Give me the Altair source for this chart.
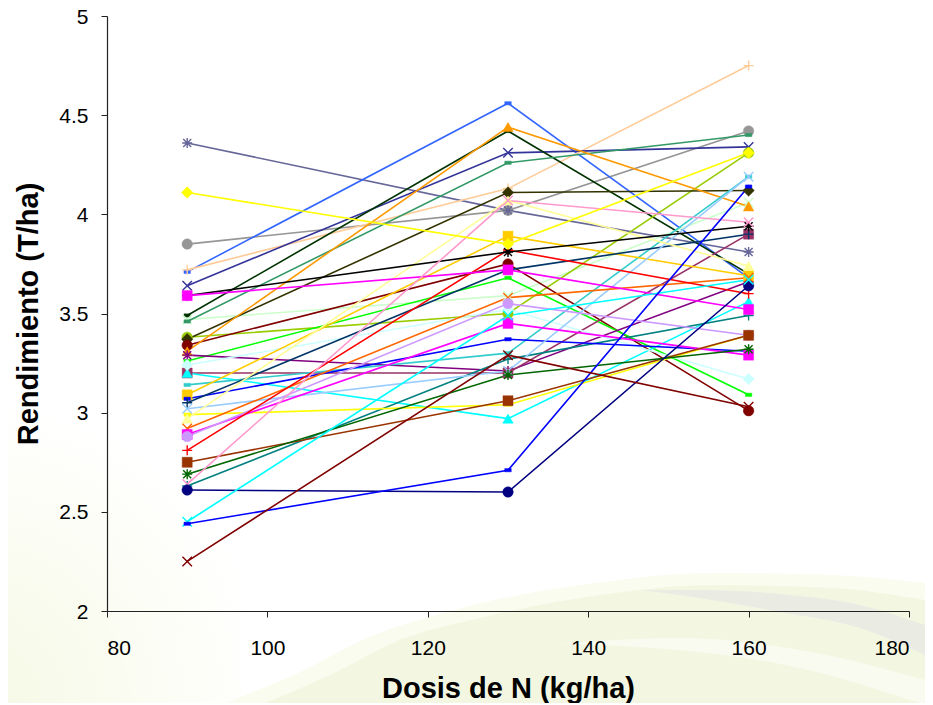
import altair as alt
import pandas as pd

DOSES = [90, 130, 160]
COLORS = ["#3366ff", "#666699", "#969696", "#ffcc99", "#333399", "#000000", "#ff00ff", "#003300", "#ccffcc", "#339966",
          "#333300", "#800000", "#ff9900", "#00ff00", "#800080", "#993366", "#00ffff", "#ccffff", "#33cccc", "#008080",
          "#ffcc00", "#0000ff", "#003366", "#99ccff", "#ffff00", "#ffff99", "#ff6600", "#cc99ff", "#ff00ff", "#ff0000",
          "#993300", "#006600", "#ff99cc", "#000080", "#00ffff", "#0000ff", "#800000", "#99cc00", "#ffff00"]
V90 = [3.71, 4.36, 3.85, 3.72, 3.64, 3.59, 3.59, 3.49, 3.47, 3.46,
       3.37, 3.34, 3.31, 3.26, 3.29, 3.20, 3.20, 3.24, 3.14, 2.63,
       3.09, 3.07, 3.05, 3.02, 2.99, 2.97, 2.92, 2.88, 2.89, 2.81,
       2.75, 2.69, 2.64, 2.61, 2.45, 2.44, 2.25, 3.38, 4.11]
V130 = [4.56, 4.02, 4.02, 4.13, 4.31, 3.81, 3.72, 4.42, 3.59, 4.26,
        4.11, 3.75, 4.44, 3.68, 3.21, 3.20, 2.97, 3.52, 3.30, 3.27,
        3.89, 3.37, 3.72, 3.21, 3.04, 4.07, 3.58, 3.55, 3.45, 3.82,
        3.06, 3.19, 4.07, 2.60, 3.49, 2.71, 3.29, 3.50, 3.85]
V160 = [3.68, 3.81, 4.42, 4.75, 4.34, 3.94, 3.52, 3.70, 4.06, 4.40,
        4.12, 3.01, 4.04, 3.09, 3.66, 3.90, 3.56, 3.17, 4.19, 3.49,
        3.69, 3.31, 3.90, 4.19, 3.39, 3.74, 3.68, 3.39, 3.29, 3.60,
        3.39, 3.32, 3.96, 3.64, 3.67, 4.14, 3.03, 4.31, 4.31]
KINDS = ["dash", "star", "circle", "plus", "x", "star", "square", "dash", "x", "dash",
         "diamond", "circle", "triangle", "dash", "star", "square", "triangle", "diamond", "dash", "plus",
         "square", "dash", "plus", "x", "dash", "triangle", "x", "circle", "square", "plus",
         "square", "star", "x", "circle", "x", "dash", "x", "circle", "diamond"]
DRAW_ORDER = [2, 1, 0, 3, 4, 7, 8, 9, 37, 10, 11, 12, 13, 14, 15, 16, 17, 18, 19, 20, 21, 22, 23, 24, 25, 26,
              28, 27, 29, 5, 6, 30, 31, 32, 33, 34, 35, 36, 38]

# Background wash of the slide, in the chart's own units
OUTER_X = [94.1, 103.8, 112.7, 122.3, 140.8, 155.7, 170.5, 182.0]
OUTER_Y = [1.526, 1.687, 1.869, 1.995, 2.141, 2.192, 2.182, 2.141]
INNER_X = [99.1, 107.8, 116.5, 126.5, 141.5, 155.7, 170.5, 182.0]
INNER_Y = [1.526, 1.677, 1.854, 1.965, 2.081, 2.131, 2.116, 2.055]
BAND_X = [146.5, 153.9, 163.9, 173.9, 182.0]
BAND_TOP = [2.106, 2.106, 2.086, 2.030, 1.929]
BAND_BOT = [2.106, 2.066, 1.995, 1.914, 1.778]
STREAK_X = [136.5, 151.4, 166.4, 182.0]
STREAK_TOP = [1.834, 1.864, 1.803, 1.652]
STREAK_BOT = [1.834, 1.803, 1.713, 1.526]
FLOOR = 1.526

PATHS = {
    "dash": "M-1,-0.5L1,-0.5L1,0.5L-1,0.5Z",
    "star": "M-1,0L1,0M0,-1L0,1M-0.8,-0.8L0.8,0.8M-0.8,0.8L0.8,-0.8",
    "plus": "M-1,0L1,0M0,-1L0,1",
    "x": "M-1,-1L1,1M-1,1L1,-1",
    "circle": "circle", "square": "square", "diamond": "diamond", "triangle": "triangle-up",
}
OPEN = {"star", "plus", "x"}
SIZES = {"dash": 42, "star": 100, "plus": 100, "x": 90, "circle": 110, "square": 100, "diamond": 130, "triangle": 110}

xs = alt.Scale(domain=[80, 180], nice=False)
ys = alt.Scale(domain=[2, 5], nice=False)
xe = alt.X("x:Q", scale=xs, axis=alt.Axis(values=[80, 100, 120, 140, 160, 180], title="Dosis de N (kg/ha)", labelPadding=20, titlePadding=16, zindex=1))
ye = alt.Y("y:Q", scale=ys, axis=alt.Axis(values=[2, 2.5, 3, 3.5, 4, 4.5, 5], title="Rendimiento (T/ha)", labelPadding=13, labelOffset=1, titlePadding=15, labelExpr="datum.value", zindex=1))


def wash(xv, top, bot, color, opacity=1.0):
    df = pd.DataFrame({"x": xv, "y": top, "y2": bot})
    return alt.Chart(df).mark_area(color=color, opacity=opacity, interpolate="monotone").encode(x=xe, y=ye, y2="y2:Q")


corner = alt.Chart(pd.DataFrame({"x": [66.66], "x2": [96.6], "y": [3.064], "y2": [FLOOR]})).mark_rect(
    color=alt.RadialGradient(gradient="radial", x1=0, y1=1, r1=0, x2=0, y2=1, r2=1,
                             stops=[alt.GradientStop(offset=0, color="#f5f8e4"),
                                    alt.GradientStop(offset=0.55, color="#fbfcf2"),
                                    alt.GradientStop(offset=1, color="#ffffff")])
).encode(x=xe, x2="x2:Q", y=ye, y2="y2:Q")

layers = [
    corner,
    wash(OUTER_X, OUTER_Y, [FLOOR] * len(OUTER_X), "#fafcf0"),
    wash(INNER_X, INNER_Y, [FLOOR] * len(INNER_X), "#f3f7e2"),
    wash(BAND_X, BAND_TOP, BAND_BOT, "#e6e7e6", 0.7),
    wash(STREAK_X, STREAK_TOP, STREAK_BOT, "#ffffff", 0.5),
]
for i in DRAW_ORDER:
    df = pd.DataFrame({"x": DOSES, "y": [V90[i], V130[i], V160[i]]})
    layers.append(alt.Chart(df).mark_line(color=COLORS[i], strokeWidth=1.6).encode(x=xe, y=ye))
for i in DRAW_ORDER:
    df = pd.DataFrame({"x": DOSES, "y": [V90[i], V130[i], V160[i]]})
    kind, color = KINDS[i], COLORS[i]
    if kind in OPEN:
        m = alt.Chart(df).mark_point(shape=PATHS[kind], size=SIZES[kind], filled=False, stroke=color, strokeWidth=1.4, opacity=1)
    else:
        m = alt.Chart(df).mark_point(shape=PATHS[kind], size=SIZES[kind], filled=True, fill=color, stroke=color, strokeWidth=0.5, opacity=1)
    layers.append(m.encode(x=xe, y=ye))

chart = alt.layer(*layers).properties(
    width=802, height=595,
    padding={"left": 99, "top": 8, "right": 16, "bottom": 92},
    autosize=alt.AutoSizeParams(type="none"),
).configure_view(stroke=None).configure_axis(
    grid=False, domainColor="#222222", tickColor="#222222", tickSize=6, domainWidth=1.2,
    labelFont="Liberation Sans", labelFontSize=21, labelColor="#000000",
    titleFont="Liberation Sans", titleFontSize=29, titleFontWeight="bold", titleColor="#000000",
)
chart.save("out.html", embed_options={"renderer": "svg", "actions": False})
